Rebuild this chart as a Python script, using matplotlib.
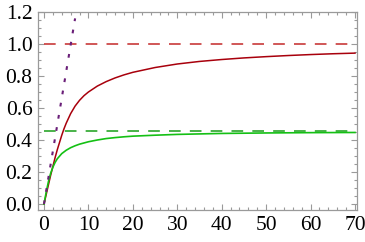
import matplotlib

matplotlib.use("Agg")
import matplotlib.pyplot as plt
from matplotlib.ticker import MultipleLocator

# ── data ─────────────────────────────────────────
red_x = [0, 0.5, 1, 1.5, 2, 2.5, 3, 3.5, 4, 4.5, 5, 6, 7, 8, 9, 10, 12, 14, 16, 18,
         20, 25, 30, 35, 40, 45, 50, 55, 60, 65, 70]
red_y = [0, 0.06, 0.12, 0.18, 0.235, 0.29, 0.34, 0.385, 0.43, 0.47, 0.505, 0.565,
         0.612, 0.648, 0.677, 0.70, 0.737, 0.765, 0.788, 0.807, 0.823, 0.853, 0.875,
         0.891, 0.903, 0.913, 0.921, 0.928, 0.934, 0.939, 0.943]

green_x = [0, 0.5, 1, 1.5, 2, 2.5, 3, 4, 5, 6, 7, 8, 10, 12, 14, 16, 18, 20, 25, 30,
           35, 40, 50, 60, 70]
green_y = [0, 0.075, 0.14, 0.192, 0.23, 0.26, 0.283, 0.315, 0.336, 0.352, 0.364,
           0.374, 0.389, 0.400, 0.409, 0.415, 0.420, 0.424, 0.430, 0.435, 0.438,
           0.441, 0.444, 0.446, 0.447]

red_limit = 1.0
green_limit = 0.457
limit_x = [0, 70]

tangent_x = [0, 7.0]
tangent_y = [0, 1.16]

x_ticks = [0, 10, 20, 30, 40, 50, 60, 70]
y_ticks = [0.0, 0.2, 0.4, 0.6, 0.8, 1.0, 1.2]

# ── styling ──────────────────────────────────────
plt.rcParams["font.family"] = "serif"
plt.rcParams["font.serif"] = ["Liberation Serif", "DejaVu Serif"]
plt.rcParams["lines.scale_dashes"] = False
frame_col = "#9a9a9a"

fig = plt.figure(figsize=(3.65, 2.42), dpi=100)
ax = fig.add_axes([38 / 365, 32 / 242, 319 / 365, 198 / 242])

ax.plot(limit_x, [red_limit] * 2, color="#c83a3a", lw=1.2, dashes=(8.4, 6.6))
ax.plot(limit_x, [green_limit] * 2, color="#2aa52a", lw=1.2, dashes=(8.4, 6.6))
ax.plot(red_x, red_y, color="#a8000c", lw=1.1)
ax.plot(green_x, green_y, color="#14c014", lw=1.2)
ax.plot(tangent_x, tangent_y, color="#6a1e78", lw=1.5, dashes=(2.7, 6.2))

ax.set_xlim(-1.35, 70.45)
ax.set_ylim(-0.0375, 1.2)
ax.set_xticks(x_ticks)
ax.set_yticks(y_ticks)
ax.set_yticklabels([f"{v:.1f}" for v in y_ticks])
ax.xaxis.set_minor_locator(MultipleLocator(2))
ax.yaxis.set_minor_locator(MultipleLocator(0.05))

for s in ax.spines.values():
    s.set_color(frame_col)
    s.set_linewidth(0.9)
ax.tick_params(which="both", direction="in", top=True, right=True,
               color=frame_col, width=0.8, labelsize=15.5, labelcolor="black")
ax.tick_params(which="major", length=4, pad=4)
ax.tick_params(which="minor", length=2.2)

fig.savefig("out.png", dpi=100)
